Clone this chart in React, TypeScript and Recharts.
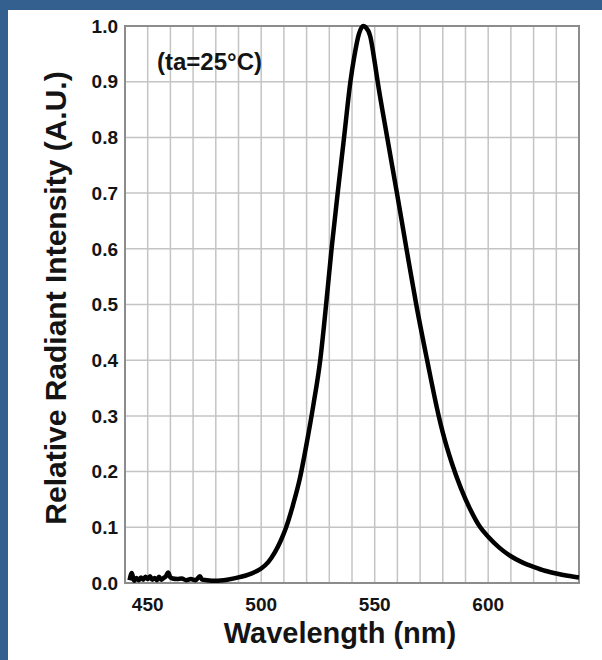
import { LineChart, Line, XAxis, YAxis, CartesianGrid, ReferenceArea } from 'recharts';

// wavelength (nm) and relative intensity
const wavelengths = [
    442, 443, 444, 445, 446, 447, 448, 449, 450, 451, 452, 453, 454, 455, 456, 457, 458, 459, 460, 461,
    463, 465, 467, 469, 471, 473, 474, 476, 480, 485, 490, 495, 500, 503, 506, 508.5, 511, 514, 517, 520,
    523, 526, 528.6, 531, 533.7, 536.5, 539.3, 541, 543, 545, 546, 548, 550, 551.3, 555.5, 559.8, 564,
    568.3, 573.1, 578.2, 580, 584, 588, 592, 596.5, 600, 605, 610, 615, 620, 625, 630, 635, 640,
];
const intensities = [
    0.005, 0.018, 0.004, 0.009, 0.005, 0.01, 0.006, 0.011, 0.007, 0.012, 0.006, 0.009, 0.005, 0.011, 0.006, 0.009, 0.012, 0.019, 0.01, 0.008,
    0.007, 0.008, 0.005, 0.007, 0.005, 0.012, 0.006, 0.005, 0.004, 0.006, 0.01, 0.016, 0.026, 0.037, 0.055, 0.075, 0.1, 0.14, 0.187, 0.25,
    0.32, 0.4, 0.5, 0.6, 0.7, 0.8, 0.9, 0.945, 0.985, 1.0, 0.998, 0.982, 0.935, 0.9, 0.8, 0.7, 0.6,
    0.5, 0.4, 0.3, 0.27, 0.215, 0.17, 0.133, 0.1, 0.083, 0.063, 0.048, 0.037, 0.029, 0.022, 0.017, 0.013, 0.01,
];

const xTicks = [440, 450, 460, 470, 480, 490, 500, 510, 520, 530, 540, 550, 560, 570, 580, 590, 600, 610, 620, 630, 640];
const xLabels = [450, 500, 550, 600];
const yTicks = [0, 0.1, 0.2, 0.3, 0.4, 0.5, 0.6, 0.7, 0.8, 0.9, 1.0];

const xTitle = 'Wavelength (nm)';
const yTitle = 'Relative Radiant Intensity (A.U.)';
const note = '(ta=25°C)';

const chartData = wavelengths.map((w, i) => ({ wavelength: w, intensity: intensities[i] }));

const font = '"Liberation Sans", Arial, sans-serif';
const textColor = '#141414';

const App = () => {
    return (
        <div style={{ position: 'absolute', left: 0, top: 0, width: 602, height: 660, background: '#fff', fontFamily: font }}>
            <div style={{ position: 'absolute', left: 0, top: 0, width: 602, height: 10, background: '#34608f' }} />
            <div style={{ position: 'absolute', left: 0, top: 0, width: 8, height: 660, background: '#34608f' }} />

            <div style={{ position: 'absolute', left: 0, top: 0 }}>
                <LineChart
                    width={602}
                    height={660}
                    data={chartData}
                    margin={{ top: 26, right: 23, bottom: 47, left: 65 }}
                >
                    <CartesianGrid stroke="#c4c4c4" strokeWidth={1.5} />
                    <XAxis
                        dataKey="wavelength"
                        type="number"
                        domain={[440, 640]}
                        ticks={xTicks}
                        interval={0}
                        height={30}
                        tickLine={false}
                        axisLine={false}
                        tickMargin={9}
                        tickFormatter={(v: number) => (xLabels.includes(v) ? String(v) : '')}
                        tick={{ fill: textColor, fontSize: 19, fontWeight: 700, fontFamily: font }}
                    />
                    <YAxis
                        domain={[0, 1]}
                        ticks={yTicks}
                        interval={0}
                        width={60}
                        tickLine={false}
                        axisLine={false}
                        tickMargin={1}
                        tickFormatter={(v: number) => v.toFixed(1)}
                        tick={{ fill: textColor, fontSize: 19, fontWeight: 700, fontFamily: font }}
                    />
                    <ReferenceArea x1={440} x2={640} y1={0} y2={1} fill="none" stroke="#8c8c8c" strokeWidth={2} />
                    <Line
                        type="monotone"
                        dataKey="intensity"
                        stroke="#000"
                        strokeWidth={4.5}
                        dot={false}
                        isAnimationActive={false}
                    />
                </LineChart>
            </div>

            <div style={{ position: 'absolute', left: 157, top: 50, fontSize: 24, lineHeight: '24px', fontWeight: 700, color: textColor, whiteSpace: 'nowrap' }}>
                {note}
            </div>
            <div style={{ position: 'absolute', left: 140, top: 619, width: 400, textAlign: 'center', fontSize: 29, lineHeight: '29px', fontWeight: 700, color: textColor }}>
                {xTitle}
            </div>
            <div
                style={{
                    position: 'absolute', left: 56 - 260, top: 298 - 17, width: 520, height: 34,
                    textAlign: 'center', fontSize: 30, lineHeight: '34px', fontWeight: 700, color: textColor,
                    transform: 'rotate(-90deg)', whiteSpace: 'nowrap',
                }}
            >
                {yTitle}
            </div>
        </div>
    );
};

export default App;
